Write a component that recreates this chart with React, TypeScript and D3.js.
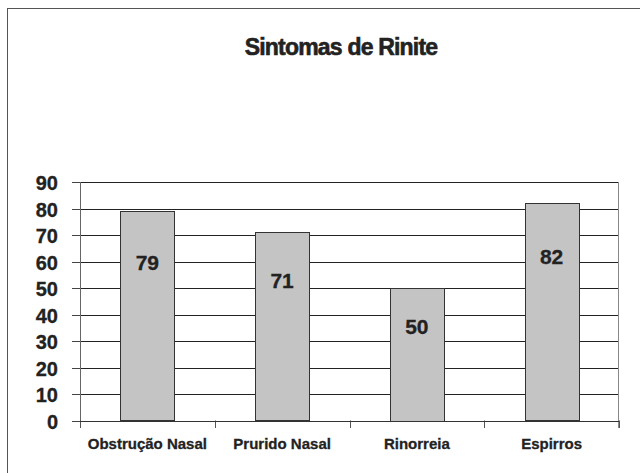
import React from "react";
import * as d3 from "d3";

const categories = ["Obstrução Nasal", "Prurido Nasal", "Rinorreia", "Espirros"];
const values = [79, 71, 50, 82];
const yTicks = [0, 10, 20, 30, 40, 50, 60, 70, 80, 90];
const title = "Sintomas de Rinite";

const W = 640;
const H = 473;
const plot = { left: 80, right: 619, top: 182, bottom: 420.5 };
const FONT = "'Liberation Sans', Arial, sans-serif";

export default function App() {
  const x = d3.scaleBand<string>().domain(categories).range([plot.left, plot.right]).paddingInner(0).paddingOuter(0);
  const y = d3.scaleLinear().domain([0, 90]).range([plot.bottom, plot.top]);
  const bw = x.bandwidth() * 0.4;
  const boundaries = categories.map((c) => x(c) as number).concat([plot.right]);

  return (
    <svg width={W} height={H} style={{ position: "absolute", left: 0, top: 0, background: "#fff" }}>
      <rect x={7.5} y={8.5} width={W} height={H} fill="#fff" stroke="#555" strokeWidth={1} />
      <text x={341} y={55} textAnchor="middle" fontFamily={FONT} fontWeight="bold" fontSize={23} letterSpacing={-0.8} fill="#222" stroke="#222" strokeWidth={0.6}>
        {title}
      </text>
      {yTicks.map((t) => (
        <g key={t}>
          <line x1={plot.left} x2={plot.right} y1={Math.round(y(t)) + 0.5} y2={Math.round(y(t)) + 0.5} stroke="#222" strokeWidth={1} />
          <line x1={72} x2={plot.left} y1={Math.round(y(t)) + 0.5} y2={Math.round(y(t)) + 0.5} stroke="#444" strokeWidth={1} />
          <text x={58} y={y(t) + 8} textAnchor="end" fontFamily={FONT} fontWeight="bold" fontSize={20} fill="#222" stroke="#222" strokeWidth={0.3}>
            {t}
          </text>
        </g>
      ))}
      <line x1={plot.left + 0.5} x2={plot.left + 0.5} y1={plot.top} y2={428} stroke="#666" />
      <line x1={plot.right - 0.5} x2={plot.right - 0.5} y1={plot.top} y2={428} stroke="#888" />
      {boundaries.map((b, i) => (
        <line key={i} x1={Math.round(b) + 0.5} x2={Math.round(b) + 0.5} y1={plot.bottom} y2={428} stroke="#555" />
      ))}
      <line x1={plot.left} x2={plot.right} y1={Math.round(plot.bottom) + 0.5} y2={Math.round(plot.bottom) + 0.5} stroke="#333" />
      {categories.map((c, i) => {
        const cx = (x(c) as number) + x.bandwidth() / 2;
        const top = y(values[i]);
        const h = plot.bottom - top;
        const ly = top + 17 + 0.165 * h;
        return (
          <g key={c}>
            <rect x={Math.round(cx - bw / 2) + 0.5} y={Math.round(top) + 0.5} width={Math.round(bw)} height={Math.round(h)} fill="#c4c4c4" stroke="#333" strokeWidth={1} />
            <text x={cx} y={ly + 7.5} textAnchor="middle" fontFamily={FONT} fontWeight="bold" fontSize={21} fill="#222" stroke="#222" strokeWidth={0.3}>
              {values[i]}
            </text>
            <text x={cx} y={449} textAnchor="middle" fontFamily={FONT} fontWeight="bold" fontSize={15} fill="#222" stroke="#222" strokeWidth={0.3}>
              {c}
            </text>
          </g>
        );
      })}
    </svg>
  );
}
